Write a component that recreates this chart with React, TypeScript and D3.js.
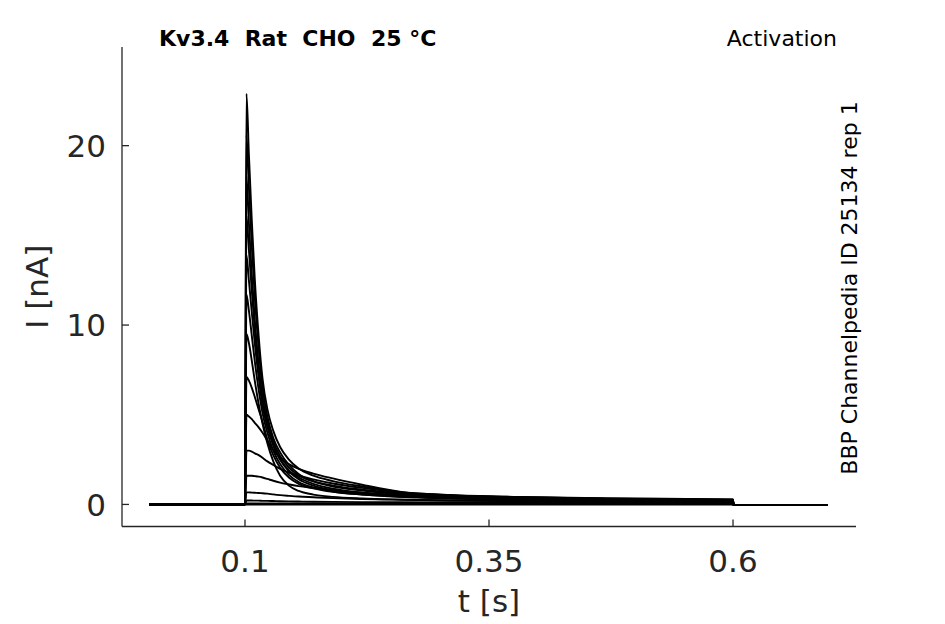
import * as d3 from "d3";

// sample times (s) shared by all sweeps
const times = [0.002, 0.0995, 0.1, 0.1015, 0.104, 0.107, 0.11, 0.114, 0.118, 0.123, 0.129, 0.136, 0.145, 0.155, 0.17, 0.19, 0.22, 0.26, 0.31, 0.38, 0.47, 0.6, 0.6005, 0.697];

// current (nA) per voltage step
const sweep01 = [0, 0, 0, 22.9, 19.5, 15.8, 12.6, 9.4, 7.0, 5.3, 4.1, 3.2, 2.5, 2.0, 1.6, 1.3, 1.0, 0.68, 0.52, 0.41, 0.33, 0.27, -0.03, -0.03];
const sweep02 = [0, 0, 0, 20.6, 17.7, 14.4, 11.6, 8.7, 6.5, 4.9, 3.7, 2.9, 2.2, 1.7, 1.3, 1.05, 0.82, 0.62, 0.47, 0.37, 0.3, 0.24, -0.03, -0.03];
const sweep03 = [0, 0, 0, 18.3, 15.7, 12.8, 10.3, 7.8, 5.9, 4.5, 3.3, 2.5, 1.85, 1.4, 1.05, 0.8, 0.6, 0.45, 0.35, 0.28, 0.23, 0.19, -0.03, -0.03];
const sweep04 = [0, 0, 0, 16.1, 14.2, 11.9, 9.8, 7.6, 5.9, 4.6, 3.5, 2.7, 2.05, 1.62, 1.28, 1.0, 0.78, 0.58, 0.45, 0.36, 0.29, 0.24, -0.03, -0.03];
const sweep05 = [0, 0, 0, 13.9, 12.5, 10.7, 9.0, 7.1, 5.5, 4.3, 3.3, 2.5, 1.9, 1.5, 1.15, 0.88, 0.66, 0.5, 0.4, 0.32, 0.26, 0.21, -0.03, -0.03];
const sweep06 = [0, 0, 0, 11.7, 10.8, 9.4, 8.0, 6.4, 5.1, 4.0, 3.0, 2.25, 1.65, 1.25, 0.95, 0.72, 0.55, 0.42, 0.33, 0.27, 0.22, 0.18, -0.03, -0.03];
const sweep07 = [0, 0, 0, 9.5, 9.0, 8.0, 6.9, 5.6, 4.5, 3.4, 2.4, 1.6, 1.05, 0.75, 0.55, 0.42, 0.33, 0.27, 0.22, 0.18, 0.15, 0.13, -0.03, -0.03];
const sweep08 = [0, 0, 0, 7.1, 6.9, 6.5, 6.0, 5.3, 4.6, 3.6, 2.75, 2.05, 1.5, 1.15, 0.9, 0.7, 0.55, 0.43, 0.35, 0.28, 0.23, 0.19, -0.03, -0.03];
const sweep09 = [0, 0, 0, 5.0, 4.9, 4.75, 4.55, 4.3, 4.0, 3.55, 3.05, 2.6, 2.25, 1.98, 1.72, 1.45, 1.1, 0.7, 0.53, 0.42, 0.34, 0.28, -0.03, -0.03];
const sweep10 = [0, 0, 0, 3.0, 3.0, 2.95, 2.85, 2.75, 2.6, 2.4, 2.2, 1.98, 1.78, 1.6, 1.4, 1.17, 0.92, 0.66, 0.5, 0.4, 0.32, 0.27, -0.03, -0.03];
const sweep11 = [0, 0, 0, 1.6, 1.6, 1.6, 1.58, 1.55, 1.5, 1.42, 1.32, 1.22, 1.12, 1.02, 0.92, 0.8, 0.66, 0.53, 0.43, 0.35, 0.29, 0.24, -0.03, -0.03];
const sweep12 = [0, 0, 0, 0.67, 0.67, 0.66, 0.65, 0.64, 0.62, 0.6, 0.56, 0.52, 0.48, 0.44, 0.4, 0.35, 0.3, 0.26, 0.22, 0.19, 0.17, 0.15, -0.03, -0.03];
const sweep13 = [0, 0, 0, 0.22, 0.22, 0.22, 0.21, 0.21, 0.2, 0.2, 0.19, 0.18, 0.17, 0.16, 0.15, 0.14, 0.13, 0.12, 0.11, 0.1, 0.09, 0.08, -0.03, -0.03];
const sweep14 = [0, 0, 0, 0.06, 0.06, 0.06, 0.06, 0.06, 0.06, 0.06, 0.06, 0.05, 0.05, 0.05, 0.05, 0.05, 0.05, 0.04, 0.04, 0.04, 0.04, 0.04, -0.03, -0.03];
const sweep15 = [0, 0, 0, 0, 0, 0, 0, 0, 0, 0, 0, 0, 0, 0, 0, 0, 0, 0, 0, 0, 0, 0, -0.03, -0.03];

const sweeps = [sweep01, sweep02, sweep03, sweep04, sweep05, sweep06, sweep07, sweep08, sweep09, sweep10, sweep11, sweep12, sweep13, sweep14, sweep15];

const xTicks = [0.1, 0.35, 0.6];
const yTicks = [0, 10, 20];

const W = 945;
const H = 624;
const FONT = "'DejaVu Sans', sans-serif";
const AXIS = "#262626";

export default function App() {
  const x = d3.scaleLinear().domain([-0.026, 0.726]).range([122, 856]);
  const y = d3.scaleLinear().domain([-1.23, 25.5]).range([526.5, 47]);

  const line = d3
    .line<number>()
    .x((_, i) => x(times[i]))
    .y((d) => y(d))
    .curve(d3.curveMonotoneX);

  const [x0, x1] = x.range();
  const [yb, yt] = y.range();

  return (
    <svg
      width={W}
      height={H}
      viewBox={`0 0 ${W} ${H}`}
      style={{ position: "absolute", left: 0, top: 0, display: "block", background: "#fff" }}
      fontFamily={FONT}
    >
      <g fill="none" stroke="#000" strokeWidth={1.9} strokeLinejoin="round">
        {sweeps.map((s, i) => (
          <path key={i} d={line(s) ?? ""} />
        ))}
      </g>

      <g stroke={AXIS} strokeWidth={1.3} fill="none">
        <line x1={x0} x2={x0} y1={yt} y2={yb} />
        <line x1={x0} x2={x1} y1={yb} y2={yb} />
        {yTicks.map((t) => (
          <line key={t} x1={x0} x2={x0 + 7} y1={y(t)} y2={y(t)} />
        ))}
        {xTicks.map((t) => (
          <line key={t} x1={x(t)} x2={x(t)} y1={yb} y2={yb - 7} />
        ))}
      </g>

      <g fill={AXIS} fontSize={31}>
        {yTicks.map((t) => (
          <text key={t} x={106} y={y(t)} dy="0.36em" textAnchor="end">
            {t}
          </text>
        ))}
        {xTicks.map((t) => (
          <text key={t} x={x(t)} y={572} textAnchor="middle">
            {String(t)}
          </text>
        ))}
        <text x={(x0 + x1) / 2} y={612} textAnchor="middle">
          t [s]
        </text>
        <text transform={`translate(48,${(yt + yb) / 2}) rotate(-90)`} textAnchor="middle">
          I [nA]
        </text>
      </g>

      <g fontSize={22} fill="#000">
        <text x={159} y={46} fontWeight="bold" style={{ whiteSpace: "pre" }}>
          {"Kv3.4  Rat  CHO  25 °C"}
        </text>
        <text x={837} y={46} textAnchor="end">
          Activation
        </text>
        <text transform="translate(857,288) rotate(-90)" textAnchor="middle">
          BBP Channelpedia ID 25134 rep 1
        </text>
      </g>
    </svg>
  );
}
